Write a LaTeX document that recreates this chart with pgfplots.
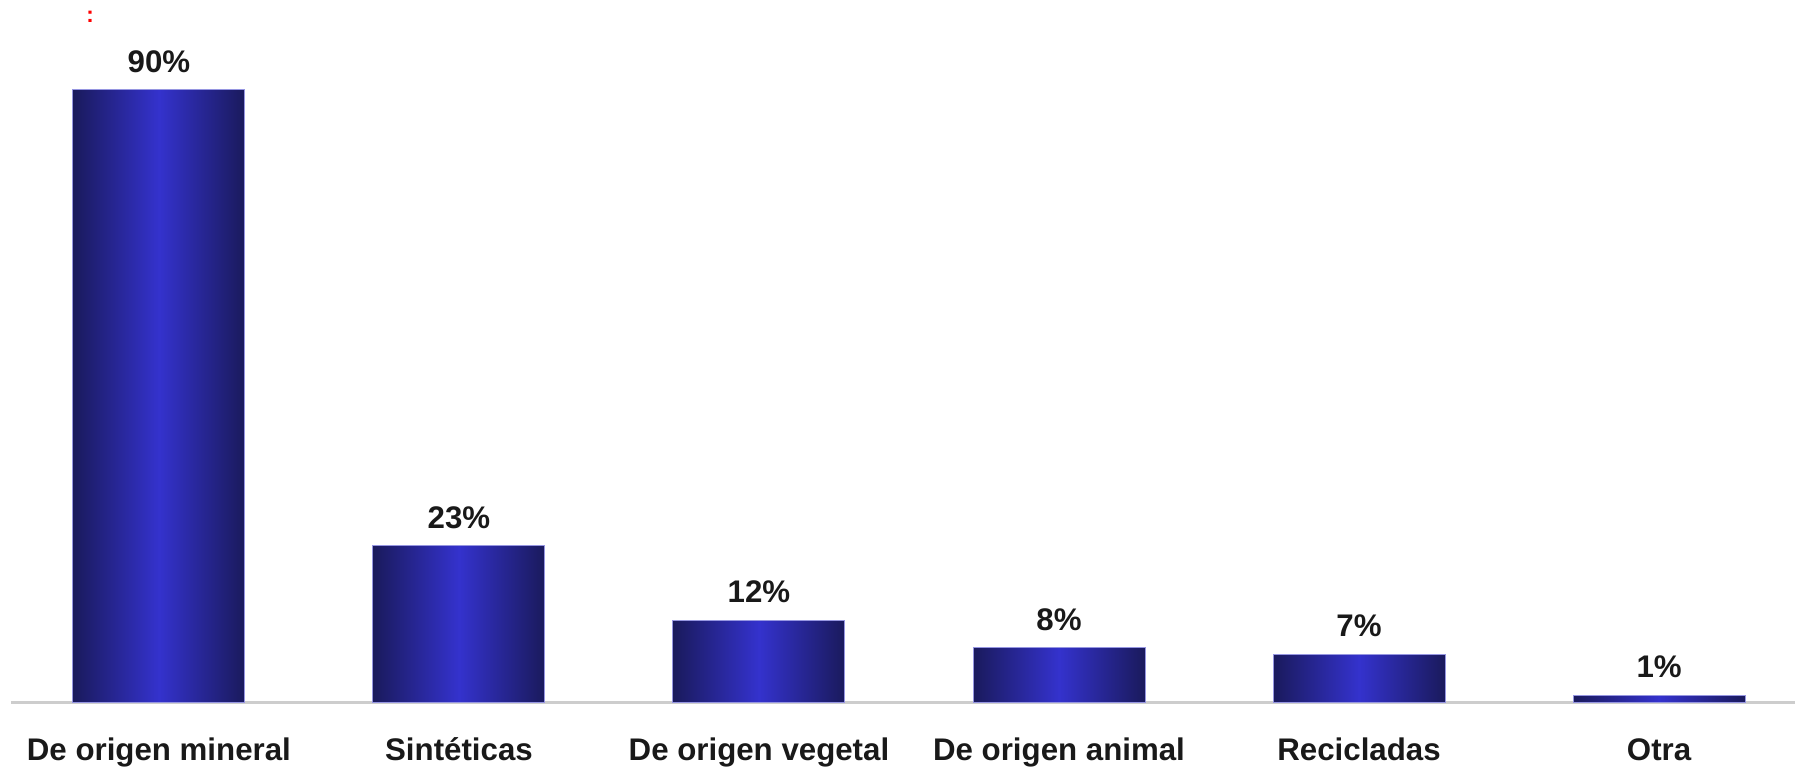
\documentclass[border=0pt]{standalone}
\usepackage{fontspec}
\setmainfont{Liberation Sans}
\usepackage{pgfplots}
\pgfplotsset{compat=1.18}

\definecolor{bardark}{RGB}{26,26,92}
\definecolor{barmid}{RGB}{52,50,205}
\definecolor{baredge}{RGB}{150,150,225}
\definecolor{basegray}{RGB}{205,205,205}
\definecolor{labtext}{RGB}{25,25,25}

\pgfplotsset{shadedbar/.style={draw=baredge, line width=0.4pt,
  left color=bardark, right color=bardark, middle color=barmid}}

\begin{document}
\begin{tikzpicture}
\begin{axis}[
  at={(0,0)}, anchor=south west,
  scale only axis,
  width=713.6pt, height=280.8pt,
  xmin=-0.493, xmax=5.453,
  ymin=0, ymax=103.2,
  axis x line=bottom,
  axis y line=none,
  x axis line style={draw=basegray, line width=1.2pt, -},
  xtick={0,1,2,3,4,5},
  xticklabels={De origen mineral, Sintéticas, De origen vegetal, De origen animal, Recicladas, Otra},
  major tick length=0pt,
  xticklabel style={anchor=base, yshift=-23.2pt, text=labtext,
    font=\fontsize{12.5}{15}\selectfont\bfseries},
  ybar, bar width=68.8pt, bar shift=0pt,
  nodes near coords={\pgfmathprintnumber[assume math mode=true]{\pgfplotspointmeta}\%},
  every node near coord/.append style={anchor=base, yshift=7pt, text=labtext,
    font=\fontsize{12.5}{15}\selectfont\bfseries},
]
% one plot per bar so that each bar gets its own shading
\addplot[shadedbar] coordinates {(0,90)};
\addplot[shadedbar] coordinates {(1,23)};
\addplot[shadedbar] coordinates {(2,12)};
\addplot[shadedbar] coordinates {(3,8)};
\addplot[shadedbar] coordinates {(4,7)};
\addplot[shadedbar] coordinates {(5,1)};
\end{axis}
\node[text=red, font=\fontsize{9}{9}\selectfont\bfseries] at (31.6pt,274pt) {:};
\pgfresetboundingbox
\path[use as bounding box] (-4.4pt,-25.6pt) rectangle (713.6pt,280.8pt);
\end{tikzpicture}
\end{document}
